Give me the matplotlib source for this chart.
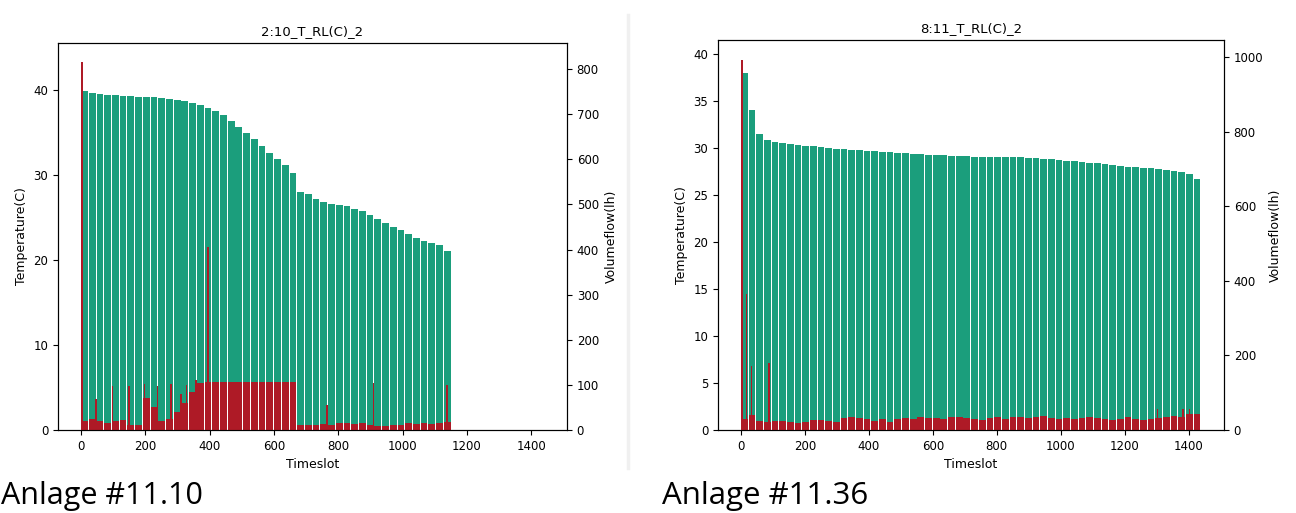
import numpy as np
import matplotlib
matplotlib.use("Agg")
import matplotlib.pyplot as plt

# timeslots are grouped in blocks of 24, one bar per block
bin_start = list(range(0, 1440, 24))

# Anlage 11.10 - return temperature per block (C), empty after ~1135
temp_a = [39.8, 39.6, 39.5, 39.4, 39.4, 39.3, 39.3, 39.2, 39.2, 39.1,
          39.0, 38.9, 38.8, 38.7, 38.5, 38.2, 37.9, 37.5, 37.0, 36.3,
          35.6, 34.9, 34.2, 33.4, 32.6, 31.9, 31.2, 30.2, 28.0, 27.7,
          27.2, 26.8, 26.6, 26.5, 26.3, 26.0, 25.7, 25.3, 24.8, 24.3,
          23.9, 23.5, 23.0, 22.6, 22.2, 22.0, 21.8, 21.0, 0, 0,
          0, 0, 0, 0, 0, 0, 0, 0, 0, 0]
# volumeflow per block (l/h)
flow_a = [20, 25, 20, 15, 20, 22, 12, 10, 70, 50,
          20, 25, 40, 60, 85, 105, 107, 107, 107, 107,
          107, 107, 107, 107, 107, 107, 107, 107, 10, 12,
          10, 14, 12, 15, 16, 14, 15, 12, 8, 8,
          10, 12, 15, 14, 16, 14, 15, 18, 0, 0,
          0, 0, 0, 0, 0, 0, 0, 0, 0, 0]
spike_x_a = [0, 43, 95, 147, 194, 235, 277, 308, 325, 354, 392, 763, 907, 1135]
spike_v_a = [816, 69, 98, 98, 102, 98, 102, 80, 100, 110, 406, 55, 104, 100]

# Anlage 11.36
temp_b = [38.0, 34.0, 31.5, 30.9, 30.6, 30.5, 30.4, 30.3, 30.2, 30.2,
          30.1, 30.0, 29.9, 29.9, 29.8, 29.8, 29.7, 29.7, 29.6, 29.6,
          29.5, 29.5, 29.4, 29.4, 29.3, 29.3, 29.3, 29.2, 29.2, 29.2,
          29.1, 29.1, 29.1, 29.1, 29.0, 29.0, 29.0, 28.9, 28.9, 28.8,
          28.8, 28.7, 28.6, 28.6, 28.5, 28.4, 28.4, 28.3, 28.2, 28.1,
          28.0, 28.0, 27.9, 27.9, 27.8, 27.7, 27.6, 27.5, 27.2, 26.7]
flow_b = [30, 40, 25, 22, 25, 25, 22, 20, 22, 28,
          28, 25, 22, 32, 35, 33, 30, 25, 30, 22,
          30, 32, 30, 35, 32, 33, 30, 35, 35, 32,
          30, 28, 32, 35, 30, 35, 35, 32, 35, 38,
          32, 30, 33, 30, 32, 35, 33, 30, 28, 30,
          35, 30, 28, 30, 32, 35, 38, 35, 42, 42]
spike_x_b = [0, 15, 30, 85, 1300, 1380, 1400]
spike_v_b = [992, 365, 172, 180, 55, 55, 55]

green = '#1b9e7c'
red = '#ae1a26'

fig = plt.figure(figsize=(12.96, 5.13), dpi=100)


def panel(rect, title, temp, flow, sx, sv, tlim, tticks, flim, fticks):
    ax = fig.add_axes(rect)
    ax.bar(bin_start, temp, width=21, align='edge', color=green)
    ax.set_xlim(-72, 1511)
    ax.set_ylim(*tlim)
    ax.set_yticks(tticks)
    ax.set_xticks(range(0, 1401, 200))
    ax.set_xlabel('Timeslot', fontsize=9)
    ax.set_ylabel('Temperature(C)', fontsize=9)
    ax.set_title(title, fontsize=9.5)
    ax.tick_params(labelsize=8.5)
    ax2 = ax.twinx()
    ax2.bar(bin_start, flow, width=21, align='edge', color=red)
    ax2.bar(sx, sv, width=5, align='edge', color=red)
    ax2.set_ylim(*flim)
    ax2.set_yticks(fticks)
    ax2.set_ylabel('Volumeflow(lh)', fontsize=9)
    ax2.tick_params(labelsize=8.5)
    return ax, ax2


panel([58 / 1296, 83 / 513, 509 / 1296, 387 / 513], '2:10_T_RL(C)_2',
      temp_a, flow_a, spike_x_a, spike_v_a,
      (0, 45.5), range(0, 41, 10), (0, 858), range(0, 801, 100))
panel([718 / 1296, 83 / 513, 506 / 1296, 390 / 513], '8:11_T_RL(C)_2',
      temp_b, flow_b, spike_x_b, spike_v_b,
      (0, 41.5), range(0, 41, 5), (0, 1046), range(0, 1001, 200))

# faint divider between the two screenshots
fig.add_artist(plt.Line2D([628 / 1296, 628 / 1296], [45 / 513, 498 / 513],
                          color='#f0f0f0', lw=2.5))

fig.text(1 / 1296, 9 / 513, 'Anlage #11.10', fontsize=22,
         family='Open Sans', ha='left', va='baseline')
fig.text(662 / 1296, 9 / 513, 'Anlage #11.36', fontsize=22.5,
         family='Open Sans', ha='left', va='baseline')

fig.savefig('out.png', dpi=100)
